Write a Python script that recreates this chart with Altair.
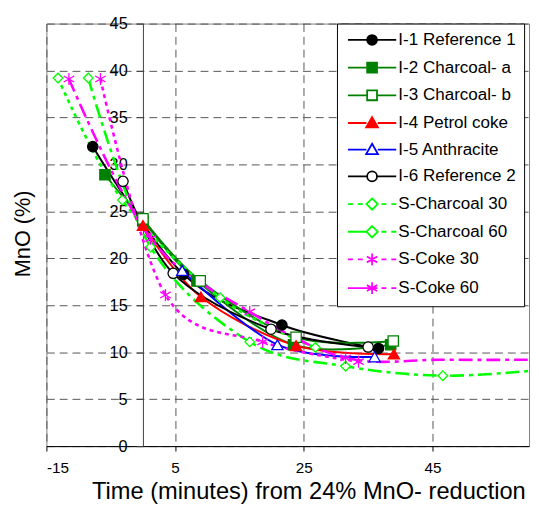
import altair as alt
import pandas as pd

# ---------------- data ----------------
series = ["I-1 Reference 1", "I-2 Charcoal- a", "I-3 Charcoal- b", "I-4 Petrol coke",
          "I-5 Anthracite", "I-6 Reference 2", "S-Charcoal 30", "S-Charcoal 60",
          "S-Coke 30", "S-Coke 60"]

t_values = [
    [-7.8, 6.3, 21.6, 36.6],
    [-5.9, 0.0, 8.4, 23.4, 38.5],
    [0.0, 8.9, 23.8, 38.9],
    [0.0, 9.0, 23.8, 39.0],
    [6.1, 20.9, 36.0],
    [-3.1, 4.7, 19.9, 35.0],
    [-13.2, -3.2, 12.0, 26.8],
    [-8.5, 1.2, 16.6, 31.5, 46.6, 61.6],
    [-6.6, 3.5, 18.6, 33.5],
    [-11.5, 1.2, 16.6, 31.5, 46.5, 61.5],
]
mno_values = [
    [31.9, 18.3, 12.9, 10.4],
    [28.9, 24.0, 17.6, 10.8, 10.8],
    [24.2, 17.6, 11.6, 11.2],
    [23.5, 15.9, 10.7, 9.8],
    [18.7, 10.8, 9.5],
    [28.2, 18.4, 12.45, 10.55],
    [39.2, 26.2, 15.8, 10.5],
    [39.2, 21.2, 11.1, 8.5, 7.5, 8.1],
    [39.1, 16.1, 11.1, 9.0],
    [39.1, 22.1, 14.3, 9.4, 9.2, 9.2],
]
# 1 = a marker is drawn at that point
marker_flags = [
    [1, 1, 1, 1],
    [1, 1, 1, 1, 1],
    [1, 1, 1, 1],
    [1, 1, 1, 1],
    [1, 1, 1],
    [1, 1, 1, 1],
    [1, 1, 1, 1],
    [1, 1, 1, 1, 1, 1],
    [1, 1, 1, 1],
    [1, 1, 1, 1, 0, 0],
]
x_ticks = [-15, 5, 25, 45]
y_ticks = [0, 5, 10, 15, 20, 25, 30, 35, 40, 45]

rows = []
for name, ts, ys, fl in zip(series, t_values, mno_values, marker_flags):
    for i, (t, y, f) in enumerate(zip(ts, ys, fl)):
        rows.append({"series": name, "t": t, "mno": y, "order": i, "marker": f})
df = pd.DataFrame(rows)

# ---------------- styles ----------------
FONT = "Liberation Sans"
stroke_colors = ["#000000", "#008000", "#008000", "#FF0000", "#0000FF", "#000000",
                 "#00FF00", "#00FF00", "#FF00FF", "#FF00FF"]
fill_colors = ["#000000", "#008000", "#FFFFFF", "#FF0000", "#FFFFFF", "#FFFFFF",
               "#FFFFFF", "#FFFFFF", "#FFFFFF", "#FFFFFF"]
s_series = series[6:]
i_series = series[:6]
s_dashes = [[4, 4], [14, 5, 4, 5], [4, 4], [14, 5, 4, 5]]

CIRCLE = "M1,0A1,1,0,1,1,-1,0A1,1,0,1,1,1,0Z"
SQUARE = "M-1,-1H1V1H-1Z"
TRI = "M0,-1.2L1.2,0.9H-1.2Z"
DIAM = "M0,-1.15L1.15,0L0,1.15L-1.15,0Z"
AST = "M0,-1.2V1.2M-1.05,-0.6L1.05,0.6M-1.05,0.6L1.05,-0.6"
GAP = "M-4.9,0H-1.15M1.15,0H4.9"
DOTS = "M-4.9,0H-3.9M-2.9,0H-1.9M1.9,0H2.9M3.9,0H4.9"
LONG = "M-4.9,0H-1.15M1.9,0H2.9M3.9,0H4.9"
legend_shapes = [GAP + CIRCLE, GAP + SQUARE, GAP + SQUARE, GAP + TRI, GAP + TRI,
                 GAP + CIRCLE, DOTS + DIAM, LONG + DIAM, DOTS + AST,
                 "M-4.9,0H1.1M1.9,0H2.9M3.9,0H4.9" + AST]

W, H = 490, 429
x_enc = alt.X("t:Q",
              scale=alt.Scale(domain=[-15, 60], nice=False, zero=False),
              axis=alt.Axis(values=x_ticks, grid=True, gridDash=[8, 5], gridColor="#555555",
                            gridWidth=1, domainColor="#000000", tickColor="#000000",
                            tickSize=5, labelFontSize=15.5, labelPadding=10,
                            labelExpr="'' + datum.value",
                            title="Time (minutes) from 24% MnO- reduction",
                            titleFontSize=24, titleFontWeight="normal",
                            titleX=266, titleY=53, titleAlign="center",
                            titleBaseline="alphabetic"))
y_enc = alt.Y("mno:Q",
              scale=alt.Scale(domain=[0, 45], nice=False, zero=False),
              axis=alt.Axis(values=y_ticks, grid=True, gridDash=[8, 5], gridColor="#555555",
                            gridWidth=1, offset=-98, domainColor="#404040",
                            tickColor="#404040", tickSize=7, labelFontSize=16.5,
                            labelPadding=9, title="MnO (%)", titleFontSize=22,
                            titleFontWeight="normal", titleX=-122, titleY=213,
                            titleAngle=270, titleAlign="center",
                            titleBaseline="middle"))


def stroke_enc(legend=None):
    return alt.Stroke("series:N", scale=alt.Scale(domain=series, range=stroke_colors),
                      legend=legend)


def fill_enc(legend=None):
    return alt.Fill("series:N", scale=alt.Scale(domain=series, range=fill_colors),
                    legend=legend)


base = alt.Chart(df)

lines_i = base.transform_filter(
    alt.FieldOneOfPredicate(field="series", oneOf=i_series)
).mark_line(interpolate="cardinal", tension=0, strokeWidth=2, clip=True).encode(
    x=x_enc, y=y_enc, stroke=stroke_enc(), detail="series:N", order="order:Q")

lines_s = base.transform_filter(
    alt.FieldOneOfPredicate(field="series", oneOf=s_series)
).mark_line(interpolate="cardinal", tension=0, strokeWidth=2.6, clip=True).encode(
    x=x_enc, y=y_enc, stroke=stroke_enc(), detail="series:N", order="order:Q",
    strokeDash=alt.StrokeDash("series:N",
                              scale=alt.Scale(domain=s_series, range=s_dashes),
                              legend=None))

marker_groups = [
    (["I-1 Reference 1", "I-6 Reference 2"], "circle", 110),
    (["I-2 Charcoal- a", "I-3 Charcoal- b"], "square", 110),
    (["I-4 Petrol coke", "I-5 Anthracite"], "triangle-up", 130),
    (["S-Charcoal 30", "S-Charcoal 60"], "diamond", 95),
    (["S-Coke 30", "S-Coke 60"], "M0,-1V1M-0.87,-0.5L0.87,0.5M-0.87,0.5L0.87,-0.5", 150),
]
point_layers = []
for members, shp, sz in marker_groups:
    point_layers.append(
        base.transform_filter(alt.FieldOneOfPredicate(field="series", oneOf=members))
        .transform_filter("datum.marker == 1")
        .mark_point(shape=shp, size=sz, strokeWidth=1.3, opacity=1, clip=True)
        .encode(x=x_enc, y=y_enc, stroke=stroke_enc(), fill=fill_enc())
    )

leg = alt.Legend(title=None, orient="none", legendX=295, legendY=0,
                 fillColor="#FFFFFF", strokeColor="#000000", padding=8,
                 symbolSize=100, symbolStrokeWidth=1.8, symbolOpacity=1,
                 symbolOffset=19, labelOffset=18, rowPadding=9.1,
                 labelFontSize=17.3, labelFont=FONT, labelColor="#000000",
                 labelLimit=400)
legend_layer = base.transform_filter("datum.order == 0").mark_point(
    opacity=0, clip=True).encode(
    x=x_enc, y=y_enc,
    stroke=stroke_enc(leg),
    fill=fill_enc(leg),
    shape=alt.Shape("series:N", scale=alt.Scale(domain=series, range=legend_shapes),
                    legend=leg),
)

chart = alt.layer(lines_i, lines_s, *point_layers, legend_layer).resolve_scale(
    stroke="independent", fill="independent", shape="independent"
).properties(
    width=W, height=H,
    autosize=alt.AutoSizeParams(type="none"),
    padding={"left": 39, "top": 12, "right": 2, "bottom": 58},
).configure(font=FONT).configure_view(
    stroke="#808080", strokeWidth=1, fill="#FFFFFF"
).configure_axis(
    labelColor="#000000", titleColor="#000000", labelFont=FONT, titleFont=FONT
)

chart.save("out.html", embed_options={"renderer": "svg", "actions": False})
